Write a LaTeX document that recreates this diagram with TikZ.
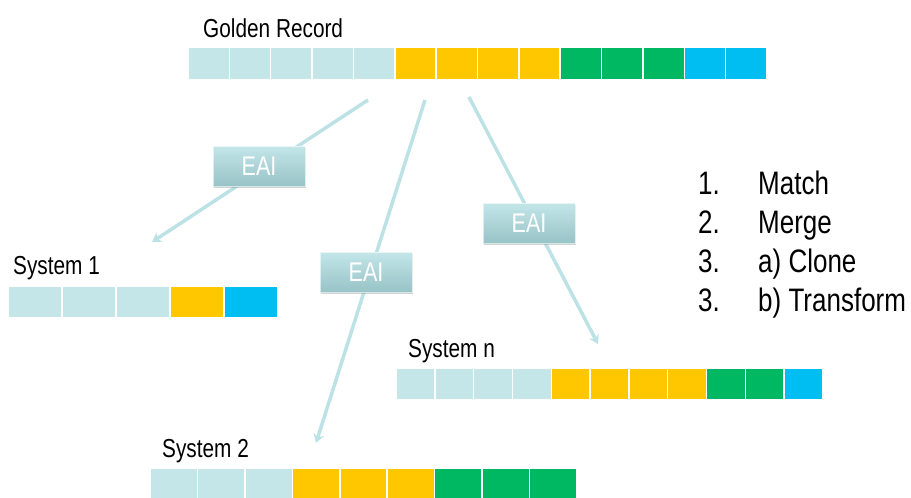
\documentclass[tikz,border=0pt]{standalone}
\usepackage{fontspec}
\setmainfont[FakeStretch=0.8]{Liberation Sans}
\usetikzlibrary{arrows.meta,shadows}
\definecolor{cellL}{HTML}{C5E6E9}
\definecolor{cellY}{HTML}{FFC700}
\definecolor{cellG}{HTML}{00B862}
\definecolor{cellB}{HTML}{00BEF2}
\definecolor{flowc}{HTML}{BDE2E5}
\definecolor{eaitop}{HTML}{C3E6E9}
\definecolor{eaibot}{HTML}{98C3C7}
\tikzset{
  cell/.style={rectangle,draw=white,line width=1.5pt,inner sep=0pt,outer sep=0pt,anchor=north west},
  lbl/.style={anchor=base west,inner sep=0pt,font=\fontsize{26}{30}\selectfont},
  lst/.style={anchor=base west,inner sep=0pt,font=\fontsize{32.5}{39}\selectfont},
  flow/.style={draw=flowc,line width=3.5pt,-{Stealth[length=9pt,width=11pt]}},
  eai/.style={rectangle,minimum width=92pt,minimum height=40pt,inner sep=0pt,
    top color=eaitop,bottom color=eaibot,draw=white,draw opacity=0.6,line width=0.8pt,
    drop shadow={shadow xshift=1pt,shadow yshift=-2pt,opacity=0.35},
    text=white,font=\fontsize{27}{30}\selectfont}
}
\begin{document}
\begin{tikzpicture}[x=1pt,y=-1pt]
\useasboundingbox (0,0) rectangle (911,498);
\clip (0,0) rectangle (911,498);
% Golden record
\node[lbl] (gr) at (203,37) {Golden Record};
\foreach \c [count=\i] in {L,L,L,L,L,Y,Y,Y,Y,G,G,G,B,B}
  \node[cell,fill=cell\c,minimum width=41.36pt,minimum height=33pt] (g\i) at ({188+(\i-1)*41.36},47) {};
% System 1
\node[lbl] (s1) at (13,274) {System 1};
\foreach \c [count=\i] in {L,L,L,Y,B}
  \node[cell,fill=cell\c,minimum width=54pt,minimum height=32pt] (a\i) at ({8+(\i-1)*54},286) {};
% System n
\node[lbl] (sn) at (408,357) {System n};
\foreach \c [count=\i] in {L,L,L,L,Y,Y,Y,Y,G,G,B}
  \node[cell,fill=cell\c,minimum width=38.82pt,minimum height=32pt] (n\i) at ({396+(\i-1)*38.82},368) {};
% System 2
\node[lbl] (s2) at (162,457) {System 2};
\foreach \c [count=\i] in {L,L,L,Y,Y,Y,G,G,G}
  \node[cell,fill=cell\c,minimum width=47.44pt,minimum height=34pt] (b\i) at ({150+(\i-1)*47.44},468) {};
% connectors
\coordinate (o1) at (368,100);
\coordinate (o2) at (425,100);
\coordinate (o3) at (469,97);
\coordinate (t1) at (152,242);
\coordinate (t2) at (316,443);
\coordinate (t3) at (598,344);
\draw[flow] (o1) -- (t1);
\draw[flow] (o2) -- (t2);
\draw[flow] (o3) -- (t3);
\node[eai] (e1) at (259,166) {EAI};
\node[eai] (e2) at (366,272) {EAI};
\node[eai] (e3) at (529,223) {EAI};
% list
\node[lst] (n1) at (698,194) {1.};
\node[lst] (l1) at (758,194) {Match};
\node[lst] (n2) at (698,233) {2.};
\node[lst] (l2) at (758,233) {Merge};
\node[lst] (n3) at (698,272) {3.};
\node[lst] (l3) at (758,272) {a) Clone};
\node[lst] (n4) at (698,311) {3.};
\node[lst] (l4) at (758,311) {b) Transform};
\end{tikzpicture}
\end{document}
